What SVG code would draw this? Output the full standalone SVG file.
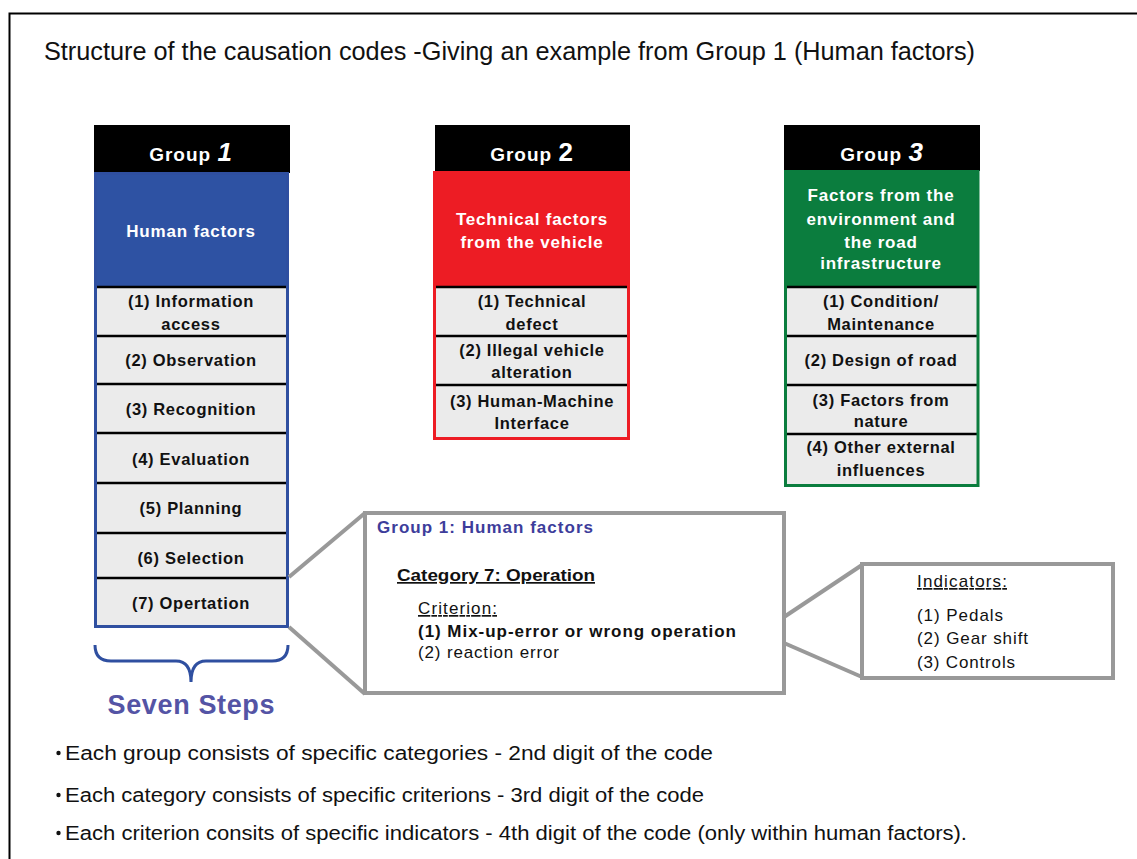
<svg xmlns="http://www.w3.org/2000/svg" width="1137" height="859" viewBox="0 0 1137 859">
<style>
  text { font-family: "Liberation Sans", Arial, sans-serif; }
  .frame { fill: #ffffff; stroke: #000000; stroke-width: 2; }
  .hdr { fill: #000000; }
  .hdrtxt { fill: #ffffff; font-weight: bold; font-size: 19px; letter-spacing: 1px; text-anchor: middle; }
  .num { font-size: 26px; }
  .wt { fill: #ffffff; font-weight: bold; font-size: 17px; letter-spacing: 0.8px; text-anchor: middle; }
  .item { fill: #ebebeb; }
  .sep { stroke: #000000; stroke-width: 2.5; }
  .it { fill: #111111; font-weight: bold; font-size: 16.5px; letter-spacing: 0.7px; text-anchor: middle; }
  .callout { fill: #ffffff; stroke: #999999; stroke-width: 4; }
  .conn { stroke: #999999; stroke-width: 4; fill: none; }
  .ct { fill: #111111; font-size: 17px; }
  .bul { fill: #111111; font-size: 20px; }
</style>
<rect class="frame" x="9.5" y="13.5" width="1140" height="860"/>
<text x="44" y="60" font-size="25" fill="#111" textLength="931" lengthAdjust="spacingAndGlyphs">Structure of the causation codes -Giving an example from Group 1 (Human factors)</text>

<g id="group1">
  <rect class="hdr" x="94" y="125" width="196" height="48"/>
  <text class="hdrtxt" x="191" y="161">Group <tspan class="num" font-style="italic">1</tspan></text>
  <rect x="94" y="172" width="195" height="115" fill="#2e52a3"/>
  <rect class="item" x="95.5" y="287" width="192" height="339"/>
  <text class="wt" x="191" y="237">Human factors</text>
  <line class="sep" x1="95" y1="287" x2="289" y2="287"/>
  <line class="sep" x1="95" y1="336" x2="289" y2="336"/>
  <line class="sep" x1="95" y1="384" x2="289" y2="384"/>
  <line class="sep" x1="95" y1="433" x2="289" y2="433"/>
  <line class="sep" x1="95" y1="483" x2="289" y2="483"/>
  <line class="sep" x1="95" y1="533" x2="289" y2="533"/>
  <line class="sep" x1="95" y1="578" x2="289" y2="578"/>
  <rect x="95.5" y="173.5" width="192" height="453" fill="none" stroke="#2f4fa0" stroke-width="3"/>
  <text class="it" x="191" y="307">(1) Information</text>
  <text class="it" x="191" y="330">access</text>
  <text class="it" x="191" y="366">(2) Observation</text>
  <text class="it" x="191" y="415">(3) Recognition</text>
  <text class="it" x="191" y="465">(4) Evaluation</text>
  <text class="it" x="191" y="514">(5) Planning</text>
  <text class="it" x="191" y="564">(6) Selection</text>
  <text class="it" x="191" y="609">(7) Opertation</text>
</g>

<g id="seven-steps">
  <path d="M95,645 Q95,661 111,661 L176,661 Q191,661 191,682 Q191,661 206,661 L272,661 Q288,661 288,645" fill="none" stroke="#2f4fa0" stroke-width="3"/>
  <text x="191" y="714" font-size="27" font-weight="bold" fill="#5454a5" text-anchor="middle" textLength="167">Seven Steps</text>
</g>

<g id="group2">
  <rect class="hdr" x="435" y="125" width="195" height="48"/>
  <text class="hdrtxt" x="532" y="161">Group <tspan class="num">2</tspan></text>
  <rect x="433" y="171" width="197" height="116" fill="#ed1c24"/>
  <rect class="item" x="435" y="287" width="193" height="151"/>
  <text class="wt" x="532" y="225">Technical factors</text>
  <text class="wt" x="532" y="248">from the vehicle</text>
  <line class="sep" x1="435" y1="287" x2="628" y2="287"/>
  <line class="sep" x1="435" y1="336" x2="628" y2="336"/>
  <line class="sep" x1="435" y1="385" x2="628" y2="385"/>
  <rect x="434.5" y="172.5" width="194" height="266" fill="none" stroke="#ed1c24" stroke-width="3"/>
  <text class="it" x="532" y="307">(1) Technical</text>
  <text class="it" x="532" y="330">defect</text>
  <text class="it" x="532" y="356">(2) Illegal vehicle</text>
  <text class="it" x="532" y="378">alteration</text>
  <text class="it" x="532" y="407">(3) Human-Machine</text>
  <text class="it" x="532" y="429">Interface</text>
</g>

<g id="group3">
  <rect class="hdr" x="784" y="125" width="196" height="46"/>
  <text class="hdrtxt" x="882" y="161">Group <tspan class="num" font-style="italic">3</tspan></text>
  <rect x="784" y="170" width="195" height="117" fill="#0b7d3e"/>
  <rect class="item" x="786" y="287" width="192" height="198"/>
  <text class="wt" x="881" y="201">Factors from the</text>
  <text class="wt" x="881" y="225">environment and</text>
  <text class="wt" x="881" y="248">the road</text>
  <text class="wt" x="881" y="269">infrastructure</text>
  <line class="sep" x1="786" y1="287" x2="978" y2="287"/>
  <line class="sep" x1="786" y1="336" x2="978" y2="336"/>
  <line class="sep" x1="786" y1="385" x2="978" y2="385"/>
  <line class="sep" x1="786" y1="434" x2="978" y2="434"/>
  <rect x="785.5" y="171.5" width="192.5" height="314" fill="none" stroke="#0b7d3e" stroke-width="3"/>
  <text class="it" x="881" y="307">(1) Condition/</text>
  <text class="it" x="881" y="330">Maintenance</text>
  <text class="it" x="881" y="366">(2) Design of road</text>
  <text class="it" x="881" y="406">(3) Factors from</text>
  <text class="it" x="881" y="427">nature</text>
  <text class="it" x="881" y="453">(4) Other external</text>
  <text class="it" x="881" y="476">influences</text>
</g>

<g id="connectors">
  <line class="conn" x1="289" y1="577" x2="365" y2="513"/>
  <line class="conn" x1="289" y1="627" x2="365" y2="694"/>
  <line class="conn" x1="784" y1="617" x2="862" y2="565"/>
  <line class="conn" x1="784" y1="643" x2="862" y2="677"/>
</g>

<g id="callout-category">
  <rect class="callout" x="365" y="513" width="419" height="180"/>
  <text x="377" y="533" font-size="17" font-weight="bold" fill="#3d3d9b" textLength="216">Group 1: Human factors</text>
  <text x="397" y="581" font-size="17" font-weight="bold" fill="#111" text-decoration="underline" textLength="198" lengthAdjust="spacingAndGlyphs">Category 7: Operation</text>
  <text class="ct" x="418" y="614" text-decoration="underline" textLength="79">Criterion:</text>
  <text class="ct" x="418" y="637" font-weight="bold" textLength="318">(1) Mix-up-error or wrong operation</text>
  <text class="ct" x="418" y="658" textLength="141">(2) reaction error</text>
</g>

<g id="callout-indicators">
  <rect class="callout" x="862" y="564" width="251" height="114"/>
  <text class="ct" x="917" y="587" text-decoration="underline" textLength="90">Indicators:</text>
  <text class="ct" x="917" y="621" textLength="86">(1) Pedals</text>
  <text class="ct" x="917" y="644" textLength="111">(2) Gear shift</text>
  <text class="ct" x="917" y="668" textLength="98">(3) Controls</text>
</g>

<g id="notes">
  <circle cx="58.5" cy="753" r="2.2" fill="#111"/>
  <text class="bul" x="65" y="760" textLength="648" lengthAdjust="spacingAndGlyphs">Each group consists of specific categories  - 2nd digit of the code</text>
  <circle cx="58.5" cy="795" r="2.2" fill="#111"/>
  <text class="bul" x="65" y="802" textLength="639" lengthAdjust="spacingAndGlyphs">Each category consists of specific criterions - 3rd digit of the code</text>
  <circle cx="58.5" cy="833" r="2.2" fill="#111"/>
  <text class="bul" x="65" y="840" textLength="902" lengthAdjust="spacingAndGlyphs">Each criterion consits of specific indicators - 4th digit of the code (only within human factors).</text>
</g>
</svg>
